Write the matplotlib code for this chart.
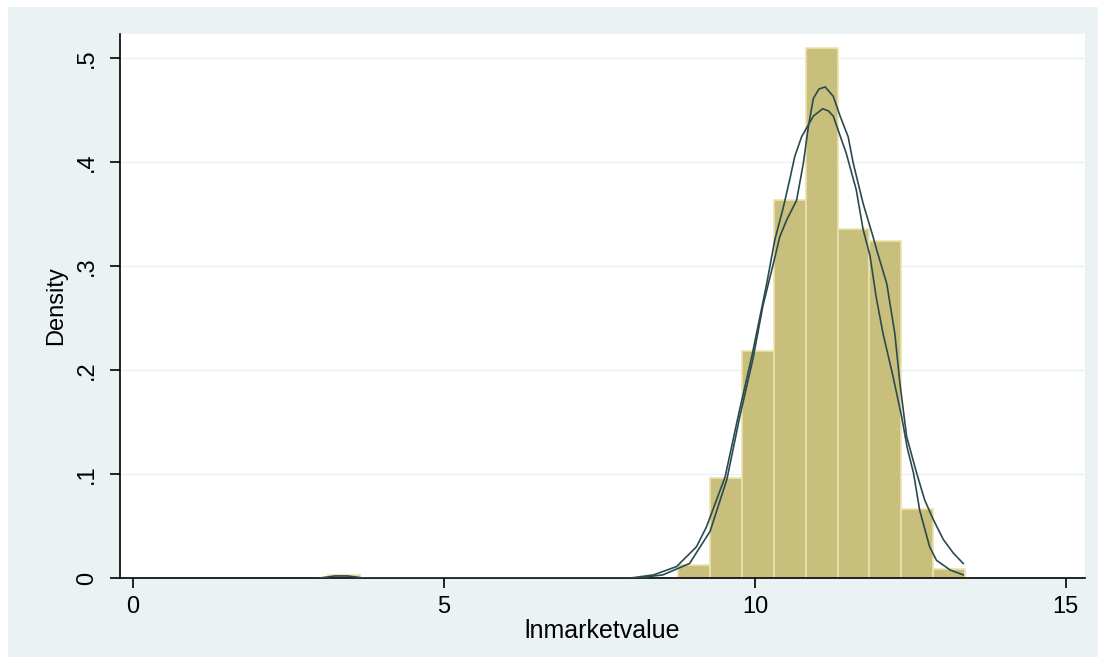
import numpy as np
import matplotlib
matplotlib.use("Agg")
import matplotlib.pyplot as plt
from matplotlib.patches import Rectangle

plt.rcParams["font.family"] = ["Liberation Sans", "DejaVu Sans"]

# histogram (density)
bin_edges = [3.138, 3.65, 8.77, 9.282, 9.794, 10.306, 10.818, 11.33, 11.842, 12.354, 12.866, 13.378]
bin_density = [0.003, 0.0, 0.0125, 0.096, 0.218, 0.363, 0.509, 0.335, 0.324, 0.066, 0.0085]

# first density curve (taller peak)
curve_a_x = [8.10, 8.52, 8.95, 9.28, 9.55, 9.76, 9.97, 10.13, 10.30, 10.40, 10.51, 10.67,
             10.78, 10.86, 10.94, 11.03, 11.13, 11.26, 11.37, 11.50, 11.58, 11.74, 11.90,
             11.96, 12.12, 12.25, 12.33, 12.44, 12.60, 12.73, 12.87, 13.03, 13.19, 13.35]
curve_a_y = [0.0, 0.003, 0.014, 0.045, 0.095, 0.156, 0.211, 0.262, 0.303, 0.328, 0.344, 0.363,
             0.399, 0.434, 0.461, 0.470, 0.472, 0.463, 0.444, 0.424, 0.399, 0.360, 0.328,
             0.315, 0.283, 0.235, 0.188, 0.136, 0.101, 0.075, 0.056, 0.037, 0.024, 0.014]

# second density curve (lower peak)
curve_b_x = [3.0, 3.25, 3.45, 3.7, 8.0, 8.37, 8.74, 9.06, 9.22, 9.52, 9.74, 9.95, 10.19,
             10.32, 10.46, 10.56, 10.64, 10.75, 10.94, 11.09, 11.18, 11.26, 11.47, 11.63,
             11.74, 11.85, 11.95, 12.06, 12.22, 12.36, 12.45, 12.55, 12.65, 12.81, 12.92,
             13.14, 13.35]
curve_b_y = [0.0, 0.002, 0.002, 0.0, 0.0, 0.003, 0.011, 0.030, 0.049, 0.097, 0.158, 0.213,
             0.283, 0.325, 0.357, 0.383, 0.405, 0.424, 0.444, 0.451, 0.449, 0.444, 0.408,
             0.373, 0.335, 0.310, 0.270, 0.235, 0.194, 0.155, 0.125, 0.101, 0.065, 0.030,
             0.017, 0.0077, 0.003]

xticks = [0, 5, 10, 15]
yticks = [0, 0.1, 0.2, 0.3, 0.4, 0.5]
ytick_labels = ["0", ".1", ".2", ".3", ".4", ".5"]

bg = "#eaf2f3"
bar_color = "#c9bf7d"
line_color = "#2b4a50"

fig = plt.figure(figsize=(11.05, 6.64), dpi=100, facecolor="white")
fig.patches.append(Rectangle((0.007, 0.011), 0.987, 0.978, transform=fig.transFigure,
                             facecolor=bg, edgecolor="none", zorder=-10))

ax = fig.add_axes([0.1086, 0.1295, 0.8734, 0.8195])
ax.set_facecolor("white")

edges = np.array(bin_edges)
ax.bar(edges[:-1], bin_density, width=np.diff(edges), align="edge",
       color=bar_color, edgecolor="#ece3ad", linewidth=1.2, zorder=2)

ax.plot(curve_a_x, curve_a_y, color=line_color, lw=1.2, zorder=3)
ax.plot(curve_b_x, curve_b_y, color=line_color, lw=1.2, zorder=3)

ax.set_xlim(-0.21, 15.31)
ax.set_ylim(0, 0.523)
ax.set_xticks(xticks)
ax.set_yticks(yticks)
ax.set_yticklabels(ytick_labels, rotation=90, va="center")
for y in yticks[1:]:
    ax.axhline(y, color=bg, lw=1.0, zorder=1)

for s in ["top", "right"]:
    ax.spines[s].set_visible(False)
for s in ["left", "bottom"]:
    ax.spines[s].set_color("black")
    ax.spines[s].set_linewidth(1.2)

ax.tick_params(axis="both", direction="out", length=7, width=1.2, labelsize=17, pad=6)
ax.tick_params(axis="y", pad=9)
ax.set_xlabel("lnmarketvalue", fontsize=18, labelpad=1)
ax.set_ylabel("Density", fontsize=17, labelpad=6)

fig.savefig("out.png", dpi=100, facecolor="white")
